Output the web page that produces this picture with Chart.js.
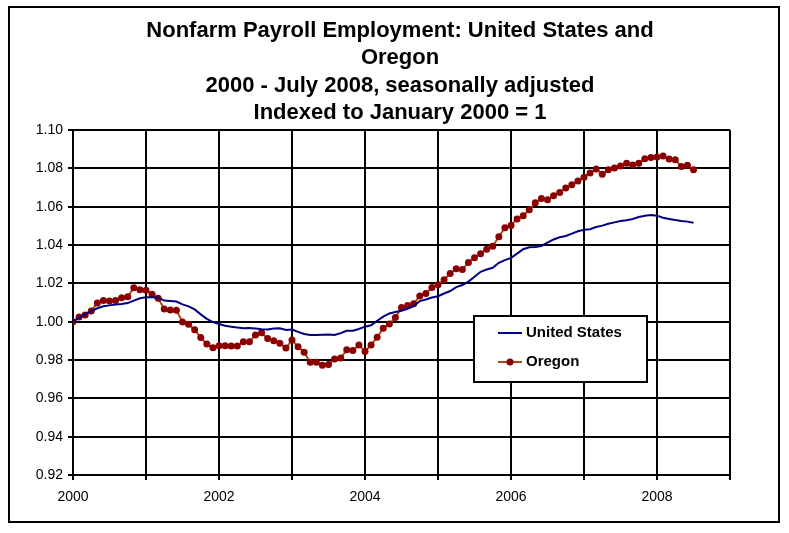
<!DOCTYPE html>
<html>
<head>
<meta charset="utf-8">
<script src="https://cdn.jsdelivr.net/npm/chart.js@4/dist/chart.umd.min.js"></script>
<style>
  html, body { margin: 0; padding: 0; background: #fff; }
  #wrap { width: 789px; height: 533px; }
</style>
</head>
<body>
<div id="wrap"><canvas id="payroll" width="789" height="533"></canvas></div>
<script>
// ===== DATA =====
const START_YEAR = 2000;   // monthly series, Jan 2000 - Jul 2008
const X_TICKS = [2000, 2002, 2004, 2006, 2008];
const SERIES_NAMES = ['United States', 'Oregon'];

const US_VALUES = [
  1.0000, 1.0020, 1.0040, 1.0055, 1.0070, 1.0080, 1.0085, 1.0090, 1.0092, 1.0097, 1.0110, 1.0122,
  1.0127, 1.0127, 1.0125, 1.0110, 1.0108, 1.0105, 1.0090, 1.0080, 1.0064, 1.0038, 1.0015, 0.9998,
  0.9988, 0.9979, 0.9974, 0.9969, 0.9966, 0.9967, 0.9964, 0.9960, 0.9959, 0.9964, 0.9966, 0.9957,
  0.9959, 0.9947, 0.9936, 0.9931, 0.9931, 0.9932, 0.9933, 0.9931, 0.9940, 0.9952, 0.9953, 0.9962,
  0.9974, 0.9981, 1.0005, 1.0026, 1.0043, 1.0050, 1.0057, 1.0067, 1.0081, 1.0107, 1.0116, 1.0126,
  1.0133, 1.0147, 1.0160, 1.0180, 1.0191, 1.0209, 1.0234, 1.0260, 1.0272, 1.0281, 1.0307, 1.0321,
  1.0333, 1.0355, 1.0378, 1.0388, 1.0390, 1.0395, 1.0412, 1.0429, 1.0440, 1.0447, 1.0459, 1.0472,
  1.0480, 1.0482, 1.0494, 1.0501, 1.0511, 1.0518, 1.0525, 1.0529, 1.0536, 1.0546, 1.0553, 1.0556,
  1.0553, 1.0542, 1.0536, 1.0530, 1.0525, 1.0522, 1.0516
];

const OREGON_VALUES = [
  1.0000, 1.0024, 1.0035, 1.0056, 1.0097, 1.0111, 1.0108, 1.0111, 1.0125, 1.0130, 1.0177, 1.0167,
  1.0164, 1.0143, 1.0122, 1.0066, 1.0061, 1.0059, 0.9998, 0.9986, 0.9958, 0.9917, 0.9883, 0.9864,
  0.9874, 0.9874, 0.9873, 0.9873, 0.9895, 0.9895, 0.9931, 0.9942, 0.9912, 0.9900, 0.9888, 0.9862,
  0.9904, 0.9869, 0.9840, 0.9788, 0.9788, 0.9773, 0.9777, 0.9805, 0.9810, 0.9853, 0.9850, 0.9878,
  0.9845, 0.9878, 0.9919, 0.9966, 0.9988, 1.0022, 1.0074, 1.0084, 1.0093, 1.0134, 1.0147, 1.0178,
  1.0193, 1.0219, 1.0251, 1.0276, 1.0272, 1.0309, 1.0334, 1.0355, 1.0378, 1.0393, 1.0443, 1.0490,
  1.0502, 1.0536, 1.0553, 1.0584, 1.0621, 1.0643, 1.0636, 1.0657, 1.0674, 1.0697, 1.0714, 1.0734,
  1.0754, 1.0776, 1.0797, 1.0769, 1.0793, 1.0802, 1.0812, 1.0826, 1.0817, 1.0826, 1.0850, 1.0857,
  1.0859, 1.0864, 1.0849, 1.0845, 1.0809, 1.0816, 1.0793
];

const TITLE_LINES = [
  'Nonfarm Payroll Employment: United States and',
  'Oregon',
  '2000 - July 2008, seasonally adjusted',
  'Indexed to January 2000 = 1'
];

const FONT = 'Arial, "Liberation Sans", sans-serif';
const US_COLOR = '#000080';
const OR_LINE = '#B04A10';
const OR_POINT = '#8B0000';

function toPoints(values) {
  return values.map((v, i) => ({ x: START_YEAR + i / 12, y: v }));
}

// ===== PLUGINS =====
// outer frame + centred title (chart title plugin centres on the padded area, which is off-centre here)
const frame = {
  id: 'frame',
  afterDraw(chart) {
    const ctx = chart.ctx;
    ctx.save();
    ctx.strokeStyle = '#000';
    ctx.lineWidth = 2;
    ctx.strokeRect(9, 7, 770, 515);

    ctx.fillStyle = '#000';
    ctx.font = 'bold 22px ' + FONT;
    ctx.textAlign = 'center';
    ctx.textBaseline = 'middle';
    const lineY = [31, 58, 86, 113];
    TITLE_LINES.forEach((t, i) => ctx.fillText(t, 400, lineY[i]));
    ctx.restore();
  }
};

const boxLegend = {
  id: 'boxLegend',
  afterDatasetsDraw(chart) {
    const ctx = chart.ctx;
    const x = 474, y = 316, w = 173, h = 66;
    ctx.save();
    ctx.fillStyle = '#fff';
    ctx.fillRect(x, y, w, h);
    ctx.strokeStyle = '#000';
    ctx.lineWidth = 2;
    ctx.strokeRect(x, y, w, h);

    ctx.font = 'bold 15px ' + FONT;
    ctx.textBaseline = 'middle';
    ctx.fillStyle = '#000';

    // United States
    ctx.strokeStyle = US_COLOR;
    ctx.beginPath(); ctx.moveTo(498, 333); ctx.lineTo(522, 333); ctx.stroke();
    ctx.fillText(SERIES_NAMES[0], 526, 333);

    // Oregon
    ctx.strokeStyle = OR_LINE;
    ctx.beginPath(); ctx.moveTo(498, 362); ctx.lineTo(522, 362); ctx.stroke();
    ctx.fillStyle = OR_POINT;
    ctx.beginPath(); ctx.arc(510, 362, 3.5, 0, Math.PI * 2); ctx.fill();
    ctx.fillStyle = '#000';
    ctx.fillText(SERIES_NAMES[1], 526, 362);
    ctx.restore();
  }
};

// ===== CHART =====
new Chart(document.getElementById('payroll'), {
  type: 'line',
  data: {
    datasets: [
      {
        label: SERIES_NAMES[0],
        data: toPoints(US_VALUES),
        borderColor: US_COLOR,
        borderWidth: 2,
        pointRadius: 0,
        tension: 0
      },
      {
        label: SERIES_NAMES[1],
        data: toPoints(OREGON_VALUES),
        borderColor: OR_LINE,
        borderWidth: 2,
        pointRadius: 3.5,
        pointBackgroundColor: OR_POINT,
        pointBorderColor: OR_POINT,
        pointBorderWidth: 0,
        tension: 0
      }
    ]
  },
  options: {
    responsive: false,
    animation: false,
    devicePixelRatio: 1,
    layout: { padding: { left: 10, right: 59, top: 130, bottom: 8 } },
    plugins: {
      legend: { display: false },
      tooltip: { enabled: false },
      title: { display: false }
    },
    scales: {
      x: {
        type: 'linear',
        min: 2000,
        max: 2009,
        afterFit: s => { s.height = 50; },
        afterBuildTicks: s => {
          s.ticks = [];
          for (let yr = 2000; yr <= 2009; yr++) s.ticks.push({ value: yr });
        },
        ticks: {
          autoSkip: false,
          maxRotation: 0,
          color: '#000',
          padding: 9,
          font: { family: FONT, size: 14 },
          callback: v => X_TICKS.includes(v) ? String(v) : ''
        },
        grid: { color: '#000', lineWidth: 2, tickLength: 5 },
        border: { color: '#000', width: 2 }
      },
      y: {
        min: 0.92,
        max: 1.10,
        afterFit: s => { s.width = 63; },
        ticks: {
          stepSize: 0.02,
          color: '#000',
          padding: 5,
          font: { family: FONT, size: 14 },
          callback: v => v.toFixed(2)
        },
        grid: { color: '#000', lineWidth: 2, tickLength: 5 },
        border: { color: '#000', width: 2 }
      }
    }
  },
  plugins: [frame, boxLegend]
});
</script>
</body>
</html>
